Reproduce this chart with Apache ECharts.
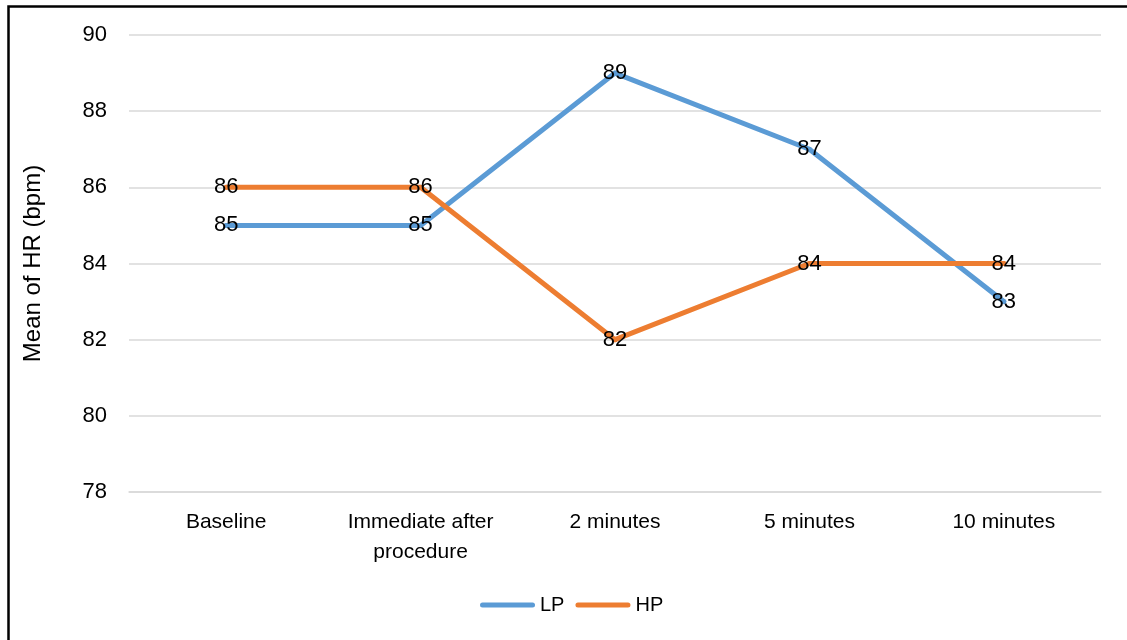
<!DOCTYPE html>
<html>
<head>
<meta charset="utf-8">
<script src="https://cdn.jsdelivr.net/npm/echarts@6/dist/echarts.min.js"></script>
<style>
  html, body { margin: 0; padding: 0; background: #fff; }
  #chart { width: 1127px; height: 640px; }
</style>
</head>
<body>
<div id="chart"></div>
<script>
// Mean heart rate at each time point
const categories = ['Baseline', 'Immediate after\nprocedure', '2 minutes', '5 minutes', '10 minutes'];
const lpValues = [85, 85, 89, 87, 83];
const hpValues = [86, 86, 82, 84, 84];
const yTicks = { min: 78, max: 90, interval: 2 };

const FONT = 'Liberation Sans';
const LP_COLOR = '#5B9BD5';
const HP_COLOR = '#ED7D31';
// rounded bar used as the legend key
const KEY_ICON = 'path://M2.5,0 L52.5,0 A2.5,2.5 0 0 1 52.5,5 L2.5,5 A2.5,2.5 0 0 1 2.5,0 Z';

const chart = echarts.init(document.getElementById('chart'));

function lineSeries(name, data, color) {
  return {
    name: name,
    type: 'line',
    data: data,
    symbol: 'circle',
    symbolSize: 5,
    showSymbol: true,
    lineStyle: { color: color, width: 5, cap: 'round', join: 'round' },
    itemStyle: { color: color },
    label: {
      show: true,
      position: 'inside',
      offset: [0, 3],
      color: '#000',
      fontFamily: FONT,
      fontSize: 22
    },
    emphasis: { disabled: true },
    labelLayout: { hideOverlap: false }
  };
}

chart.setOption({
  animation: false,
  backgroundColor: '#fff',
  graphic: [{
    type: 'rect',
    shape: { x: 8.5, y: 6.5, width: 1300, height: 800 },
    style: { fill: 'none', stroke: '#000', lineWidth: 2.5 },
    silent: true
  }],
  grid: { left: 129, right: 26, top: 35, bottom: 148 },
  legend: {
    top: 595,
    left: 480,
    padding: 0,
    itemWidth: 55,
    itemHeight: 5,
    itemGap: 11,
    icon: KEY_ICON,
    textStyle: { fontFamily: FONT, fontSize: 20, color: '#000' },
    data: [
      { name: 'LP', itemStyle: { color: LP_COLOR } },
      { name: 'HP', itemStyle: { color: HP_COLOR } }
    ]
  },
  xAxis: {
    type: 'category',
    data: categories,
    boundaryGap: true,
    axisLine: { show: true, lineStyle: { color: '#d9d9d9', width: 1.5 } },
    axisTick: { show: false },
    axisLabel: {
      color: '#000',
      fontFamily: FONT,
      fontSize: 21,
      lineHeight: 30,
      margin: 15,
      interval: 0
    }
  },
  yAxis: {
    type: 'value',
    min: yTicks.min,
    max: yTicks.max,
    interval: yTicks.interval,
    name: 'Mean of HR (bpm)',
    nameLocation: 'middle',
    nameGap: 84,
    nameRotate: 90,
    nameTextStyle: { color: '#000', fontFamily: FONT, fontSize: 24 },
    axisLine: { show: false },
    axisTick: { show: false },
    axisLabel: { color: '#000', fontFamily: FONT, fontSize: 22, margin: 22 },
    splitLine: { lineStyle: { color: '#d9d9d9', width: 1.5 } }
  },
  series: [
    lineSeries('LP', lpValues, LP_COLOR),
    lineSeries('HP', hpValues, HP_COLOR)
  ]
});
</script>
</body>
</html>
